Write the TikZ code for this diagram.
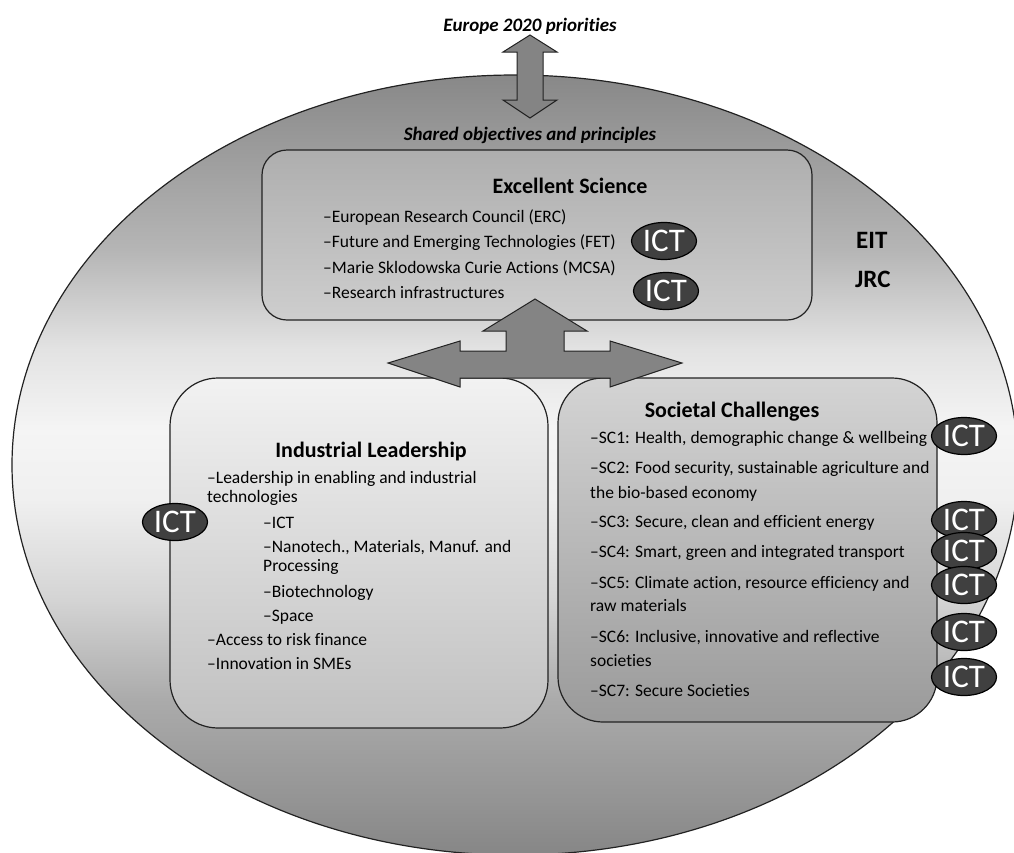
\documentclass[tikz,border=0pt]{standalone}
\usepackage{fontspec}
\setmainfont{Carlito}[Ligatures={TeX,NoCommon}]
\usetikzlibrary{shapes.geometric}
\definecolor{ellTop}{HTML}{888888}
\definecolor{ellBot}{HTML}{868686}
\definecolor{lineC}{HTML}{222222}
\definecolor{arrowC}{HTML}{848484}
\definecolor{ictC}{HTML}{404040}
\definecolor{esTop}{HTML}{AEAEAE}
\definecolor{esBot}{HTML}{CECECE}
\definecolor{ilTop}{HTML}{F2F2F2}
\definecolor{ilBot}{HTML}{C0C0C0}
\definecolor{scTop}{HTML}{D4D4D4}
\definecolor{scBot}{HTML}{9A9A9A}
\pgfdeclareverticalshading{ellshade}{100bp}{%
  color(0bp)=(ellBot); color(25bp)=(ellBot);
  color(28.5bp)=(black!42!white); color(35bp)=(black!33!white);
  color(41.3bp)=(black!17!white); color(47.8bp)=(black!6!white);
  color(52.2bp)=(black!4!white); color(57.4bp)=(black!11!white);
  color(63.8bp)=(black!29!white); color(70.2bp)=(black!39!white);
  color(75bp)=(ellTop); color(100bp)=(ellTop)}
\tikzset{
  bigell/.style={draw=lineC, line width=1.2pt, shade, shading=ellshade},
  pillar/.style={draw=lineC, line width=1.2pt, rectangle, inner sep=0pt},
  arrowshape/.style={draw=lineC, line width=1pt, fill=arrowC, line join=miter},
  itemtxt/.style={anchor=base west, inner sep=0pt, font=\fontsize{17.5}{21}\selectfont},
  ttltxt/.style={anchor=base, inner sep=0pt, font=\bfseries\fontsize{22}{26}\selectfont},
  headtxt/.style={anchor=base, inner sep=0pt, font=\bfseries\itshape\fontsize{19}{23}\selectfont},
  sidetxt/.style={anchor=base west, inner sep=0pt, font=\bfseries\fontsize{25}{30}\selectfont},
  ictoval/.style={ellipse, draw=black, line width=1.2pt, fill=ictC, minimum width=65pt, minimum height=37pt, inner sep=0pt},
  icttxt/.style={inner sep=0pt, text=white, font=\fontsize{33}{33}\selectfont}
}
\begin{document}
\begin{tikzpicture}[x=1pt,y=-1pt]
\useasboundingbox (0,0) rectangle (1014,852);
\clip (0,0) rectangle (1014,852);
% big ellipse
\draw[bigell] (515,465) ellipse [x radius=503pt, y radius=390pt];
% top double arrow
\draw[arrowshape] (530,35) -- (557,52) -- (543,52) -- (543,100) -- (557,100) -- (530,118)
  -- (503,100) -- (517,100) -- (517,52) -- (503,52) -- cycle;
\node[headtxt] (europe) at (530,31) {Europe 2020 priorities};
\node[headtxt] (shared) at (530,140) {Shared objectives and principles};
% Excellent science box
\node[pillar, rounded corners=25pt, minimum width=550pt, minimum height=170pt, top color=esTop, bottom color=esBot] (es) at (537,235) {};
\node[ttltxt] (esT) at (570,193) {Excellent Science};
\node[itemtxt] (es1) at (323,222) {–European Research Council (ERC)};
\node[itemtxt] (es2) at (323,247) {–Future and Emerging Technologies (FET)};
\node[itemtxt] (es3) at (323,273) {–Marie Sklodowska Curie Actions (MCSA)};
\node[itemtxt] (es4) at (323,298) {–Research infrastructures};
\node[ictoval] (ictES1) at (664,241) {};
\node[icttxt] (ictES1t) at (ictES1.center) {ICT};
\node[ictoval] (ictES2) at (666,291) {};
\node[icttxt] (ictES2t) at (ictES2.center) {ICT};
% EIT JRC
\node[sidetxt] (eit) at (856,248) {EIT};
\node[sidetxt] (jrc) at (855,287) {JRC};
% Industrial leadership box
\node[pillar, rounded corners=48pt, minimum width=378pt, minimum height=350pt, top color=ilTop, bottom color=ilBot] (il) at (359,553) {};
\node[ttltxt] (ilT) at (371,457) {Industrial Leadership};
\node[itemtxt] (il1) at (207,483) {–Leadership in enabling and industrial};
\node[itemtxt] (il1b) at (207,502) {technologies};
\node[itemtxt] (il2) at (263,528) {–ICT};
\node[itemtxt] (il3) at (263,552) {–Nanotech., Materials, Manuf. and};
\node[itemtxt] (il3b) at (263,571) {Processing};
\node[itemtxt] (il4) at (263,597) {–Biotechnology};
\node[itemtxt] (il5) at (263,621) {–Space};
\node[itemtxt] (il6) at (207,645) {–Access to risk finance};
\node[itemtxt] (il7) at (207,669) {–Innovation in SMEs};
\node[ictoval] (ictIL) at (175,522) {};
\node[icttxt] (ictILt) at (ictIL.center) {ICT};
% Societal challenges box
\node[pillar, rounded corners=45pt, minimum width=379pt, minimum height=344pt, top color=scTop, bottom color=scBot] (sc) at (747.5,550) {};
\node[ttltxt] (scT) at (732,417) {Societal Challenges};
\node[itemtxt] (sc1) at (590,443) {–SC1: Health, demographic change \& wellbeing};
\node[itemtxt] (sc2) at (590,473) {–SC2: Food security, sustainable agriculture and};
\node[itemtxt] (sc2b) at (590,498) {the bio-based economy};
\node[itemtxt] (sc3) at (590,527) {–SC3: Secure, clean and efficient energy};
\node[itemtxt] (sc4) at (590,557) {–SC4: Smart, green and integrated transport};
\node[itemtxt] (sc5) at (590,588) {–SC5: Climate action, resource efficiency and};
\node[itemtxt] (sc5b) at (590,611) {raw materials};
\node[itemtxt] (sc6) at (590,642) {–SC6: Inclusive, innovative and reflective};
\node[itemtxt] (sc6b) at (590,666) {societies};
\node[itemtxt] (sc7) at (590,696) {–SC7: Secure Societies};
\node[ictoval] (ictSC1) at (964,436) {};
\node[icttxt] (ictSC1t) at (ictSC1.center) {ICT};
\node[ictoval] (ictSC3) at (964,520) {};
\node[icttxt] (ictSC3t) at (ictSC3.center) {ICT};
\node[ictoval] (ictSC4) at (964,551) {};
\node[icttxt] (ictSC4t) at (ictSC4.center) {ICT};
\node[ictoval] (ictSC5) at (964,585) {};
\node[icttxt] (ictSC5t) at (ictSC5.center) {ICT};
\node[ictoval] (ictSC6) at (964,632) {};
\node[icttxt] (ictSC6t) at (ictSC6.center) {ICT};
\node[ictoval] (ictSC7) at (964,677) {};
\node[icttxt] (ictSC7t) at (ictSC7.center) {ICT};
% three-way arrow
\draw[arrowshape] (535,299) -- (587,331) -- (564,331) -- (564,351) -- (610,351) -- (610,341)
  -- (682,363) -- (610,387) -- (610,378) -- (460,378) -- (460,387) -- (388,363)
  -- (460,341) -- (460,351) -- (506,351) -- (506,331) -- (483,331) -- cycle;
\end{tikzpicture}
\end{document}
